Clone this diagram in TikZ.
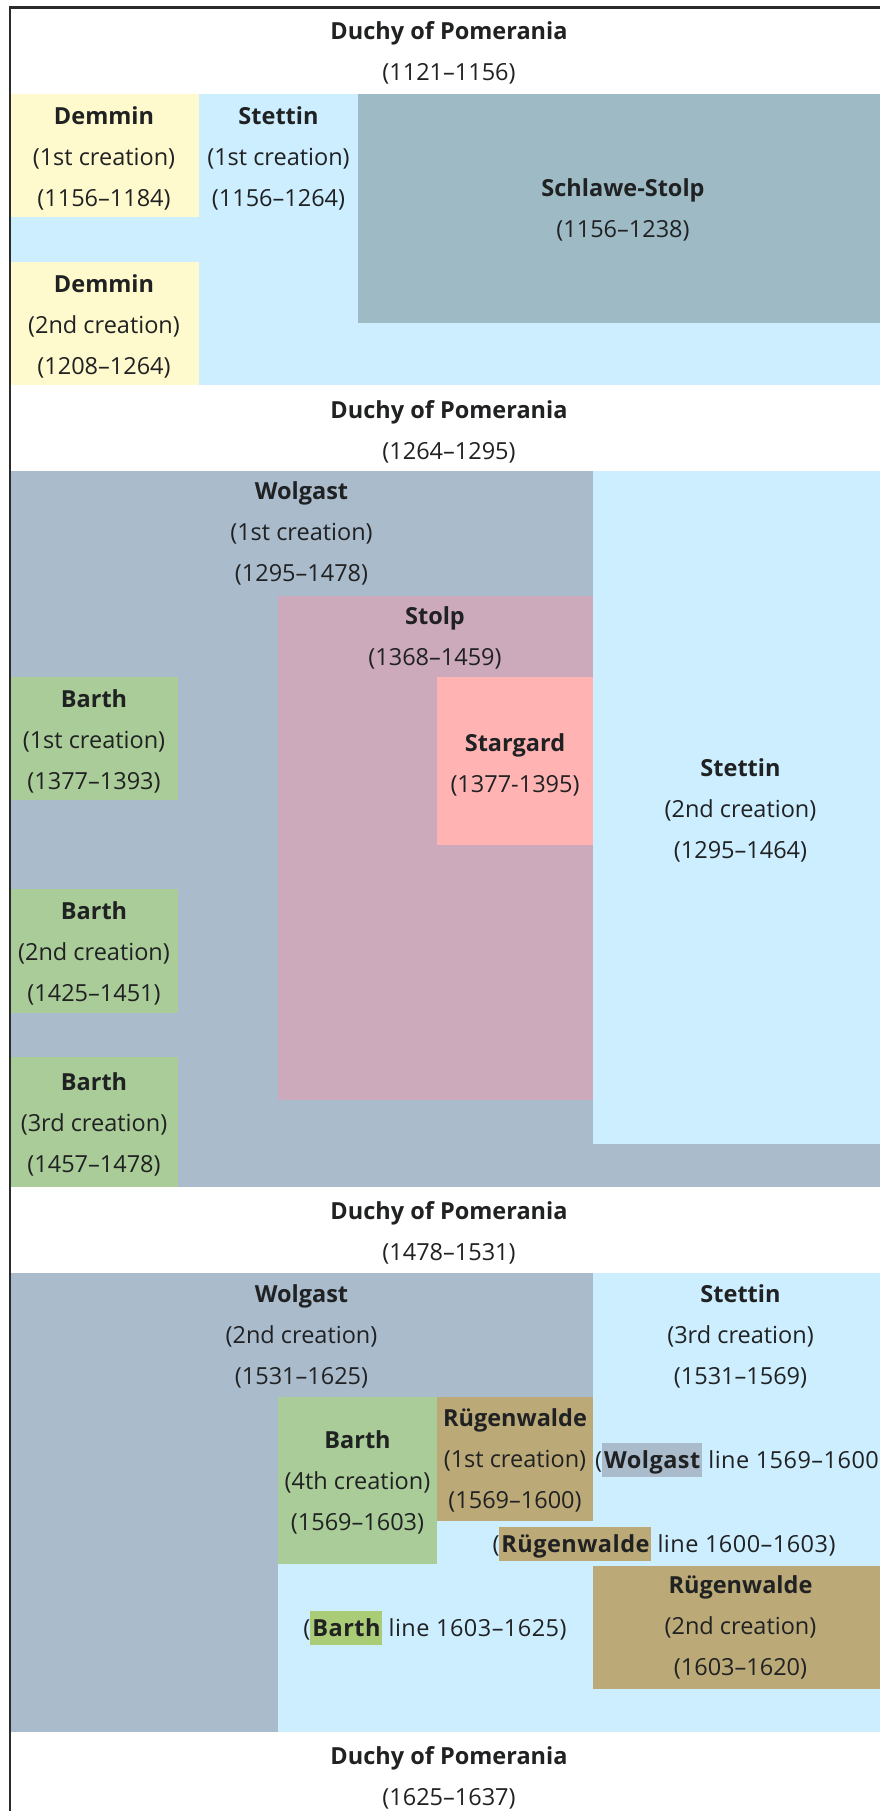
\documentclass[tikz,border=0pt]{standalone}
\usepackage{fontspec}
\setmainfont{Open Sans}
\definecolor{txt}{HTML}{202122}
\definecolor{lblue}{HTML}{CCEEFF}
\definecolor{dyellow}{HTML}{FFFACD}
\definecolor{schl}{HTML}{9DBAC5}
\definecolor{wolg}{HTML}{AABBCC}
\definecolor{stolpc}{HTML}{CCAABB}
\definecolor{starg}{HTML}{FFB3B3}
\definecolor{barth}{HTML}{AACC99}
\definecolor{barthhl}{HTML}{AACC77}
\definecolor{ruegen}{HTML}{BBAA77}
\definecolor{bordc}{HTML}{2B2B2B}
\newcommand\Ls{\rule[-6pt]{0pt}{27pt}}
\newcommand\hlword[2]{{\setlength{\fboxsep}{0pt}\colorbox{#1}{\rule[-9pt]{0pt}{34pt}\kern2pt\textbf{#2}\kern1pt}}}
\begin{document}
\begin{tikzpicture}[x=1pt,y=-1pt,
  lbl/.style={align=center, inner sep=0pt, text=txt, font=\fontsize{23.5}{41}\selectfont},
  linelbl/.style={inner sep=0pt, text=txt, font=\fontsize{23.5}{41}\selectfont\addfontfeatures{LetterSpace=2}}]
\useasboundingbox (0,0) rectangle (880,1811);
\clip (0,0) rectangle (880,1811);
\fill[white] (0,0) rectangle (880,1811);
% ---- row 2
\fill[lblue] (10.75,94) rectangle (895,385);
\fill[dyellow] (10.75,94) rectangle (199,217);
\fill[dyellow] (10.75,262) rectangle (199,385);
\fill[schl] (358,94) rectangle (895,323);
% ---- row 4
\fill[wolg] (10.75,471) rectangle (895,1187);
\fill[lblue] (593,471) rectangle (895,1144);
\fill[stolpc] (278,596) rectangle (593,1100);
\fill[starg] (437,677) rectangle (593,845);
\fill[barth] (10.75,677) rectangle (178,800);
\fill[barth] (10.75,889) rectangle (178,1013);
\fill[barth] (10.75,1057) rectangle (178,1187);
% ---- row 6
\fill[lblue] (10.75,1273) rectangle (895,1732);
\fill[wolg] (10.75,1273) rectangle (593,1397);
\fill[wolg] (10.75,1397) rectangle (278,1732);
\fill[barth] (278,1397) rectangle (437,1564);
\fill[ruegen] (437,1397) rectangle (593,1521);
\fill[ruegen] (593,1566) rectangle (895,1689);
% ---- border
\draw[bordc, line width=2.5pt] (10,1815) -- (10,7.5) -- (895,7.5);
% ---- labels
\node[lbl] (duchy1) at (449,53) {\Ls\textbf{Duchy of Pomerania}\\\Ls(1121–1156)};
\node[lbl] (demmin1) at (104,158) {\Ls\textbf{Demmin}\\\Ls(1st creation)\\\Ls(1156–1184)};
\node[lbl] (demmin2) at (104,326) {\Ls\textbf{Demmin}\\\Ls(2nd creation)\\\Ls(1208–1264)};
\node[lbl] (stettin1) at (278.5,158) {\Ls\textbf{Stettin}\\\Ls(1st creation)\\\Ls(1156–1264)};
\node[lbl] (schlawe) at (623,209.5) {\Ls\textbf{Schlawe-Stolp}\\\Ls(1156–1238)};
\node[lbl] (duchy2) at (449,431) {\Ls\textbf{Duchy of Pomerania}\\\Ls(1264–1295)};
\node[lbl] (wolgast1) at (301.5,533) {\Ls\textbf{Wolgast}\\\Ls(1st creation)\\\Ls(1295–1478)};
\node[lbl] (stolp) at (435,637.5) {\Ls\textbf{Stolp}\\\Ls(1368–1459)};
\node[lbl] (stargard) at (515,764) {\Ls\textbf{Stargard}\\\Ls(1377-1395)};
\node[lbl] (barth1) at (94,741) {\Ls\textbf{Barth}\\\Ls(1st creation)\\\Ls(1377–1393)};
\node[lbl] (stettin2) at (740.5,810) {\Ls\textbf{Stettin}\\\Ls(2nd creation)\\\Ls(1295–1464)};
\node[lbl] (barth2) at (94,953) {\Ls\textbf{Barth}\\\Ls(2nd creation)\\\Ls(1425–1451)};
\node[lbl] (barth3) at (94,1124) {\Ls\textbf{Barth}\\\Ls(3rd creation)\\\Ls(1457–1478)};
\node[lbl] (duchy3) at (449,1232.5) {\Ls\textbf{Duchy of Pomerania}\\\Ls(1478–1531)};
\node[lbl] (wolgast2) at (301.5,1336) {\Ls\textbf{Wolgast}\\\Ls(2nd creation)\\\Ls(1531–1625)};
\node[lbl] (stettin3) at (740.5,1336) {\Ls\textbf{Stettin}\\\Ls(3rd creation)\\\Ls(1531–1569)};
\node[lbl] (barth4) at (357.5,1482) {\Ls\textbf{Barth}\\\Ls(4th creation)\\\Ls(1569–1603)};
\node[lbl] (ruegen1) at (515,1460) {\Ls\textbf{Rügenwalde}\\\Ls(1st creation)\\\Ls(1569–1600)};
\node[linelbl, anchor=base west] (wolgline) at (595,1468) {(\hlword{wolg}{Wolgast} line 1569–1600)};
\node[linelbl, anchor=base] (ruegline) at (664,1552) {(\hlword{ruegen}{Rügenwalde} line 1600–1603)};
\node[lbl] (ruegen2) at (740.5,1627) {\Ls\textbf{Rügenwalde}\\\Ls(2nd creation)\\\Ls(1603–1620)};
\node[linelbl, anchor=base] (barthline) at (435,1636) {(\hlword{barthhl}{Barth} line 1603–1625)};
\node[lbl] (duchy4) at (449,1777) {\Ls\textbf{Duchy of Pomerania}\\\Ls(1625–1637)};
\end{tikzpicture}
\end{document}
